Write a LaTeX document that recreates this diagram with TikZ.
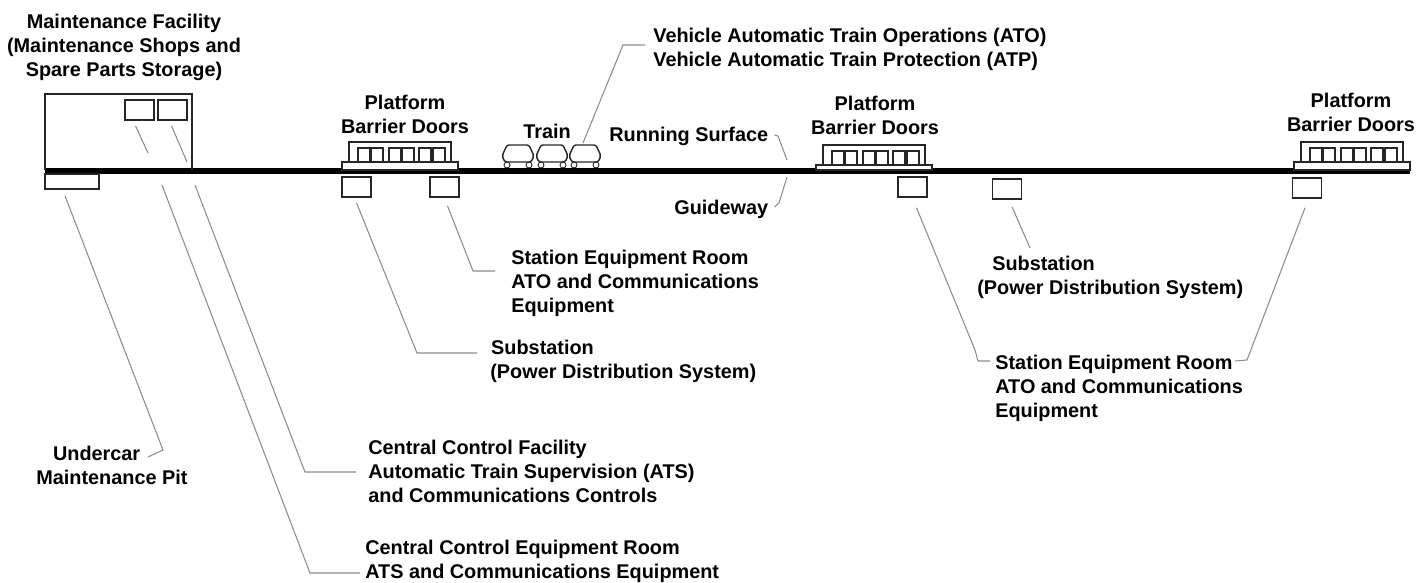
\documentclass[tikz,border=0pt]{standalone}
\usepackage{fontspec}
\setmainfont{Liberation Sans}

\begin{document}
\begin{tikzpicture}[x=0.02cm,y=-0.02cm,
    lbl/.style={anchor=north west,inner sep=0pt,align=left,font=\fontsize{11.3}{13.5}\selectfont\bfseries},
    ctrlbl/.style={anchor=north,inner sep=0pt,align=center,font=\fontsize{11.3}{13.5}\selectfont\bfseries},
    eqbox/.style={draw=black!85,line width=0.9pt,inner sep=0pt,minimum width=0.58cm,minimum height=0.4cm},
    outline/.style={draw=black!85,line width=0.8pt},
    leader/.style={draw=black!45,line width=0.6pt}]
    \useasboundingbox (0,0) rectangle (1427,582);
    % 轨道
    \draw[line width=3.5pt] (45,171) -- (1410,171);
    % 维修设施
    \draw[outline] (45,170) -- (45,94) -- (192,94) -- (192,170);
    \node[eqbox] (winA) at (139.5,110) {};
    \node[eqbox] (winB) at (172.5,110) {};
    \node[eqbox,minimum width=1.08cm,minimum height=0.3cm] (pit) at (72,181.5) {};
    % 站台
    \foreach \px/\py in {342/0,816/3,1294/0} {
        \draw[outline,fill=white] (\px,\py+162) rectangle (\px+116,170);
        \draw[outline] (\px+7,\py+162) -- (\px+7,\py+142) -- (\px+109,\py+142) -- (\px+109,\py+162);
        \foreach \dx in {16,29,47,60,77,91}
            \draw[outline] (\px+\dx,\py+162) -- (\px+\dx,\py+148) -- (\px+\dx+12,\py+148) -- (\px+\dx+12,\py+162);
    }
    % 列车
    \foreach \cx in {502,536,569} {
        \draw[outline,rounded corners=1.2pt] (\cx+5,145) -- (\cx+27,145) -- (\cx+32,156) -- (\cx+29,162) -- (\cx+3,162) -- (\cx,156) -- cycle;
        \draw[outline,line width=0.5pt] (\cx+5,165) circle (3);
        \draw[outline,line width=0.5pt] (\cx+27,165) circle (3);
    }
    \coordinate (carC) at (583,143);
    % 设备间
    \node[eqbox] (subA) at (356.5,187) {};
    \node[eqbox] (staA) at (444.5,187) {};
    \node[eqbox] (staB) at (912.5,187) {};
    \node[eqbox] (subB) at (1007,189) {};
    \node[eqbox] (staC) at (1307,188) {};
    % 文字
    \node[ctrlbl] (mfac) at (124,14) {Maintenance Facility\\(Maintenance Shops and\\Spare Parts Storage)};
    \node[ctrlbl] (platA) at (405,95) {Platform\\Barrier Doors};
    \node[ctrlbl] (platB) at (875,96) {Platform\\Barrier Doors};
    \node[ctrlbl] (platC) at (1351,93) {Platform\\Barrier Doors};
    \node[ctrlbl] (train) at (547,124) {Train};
    \node[lbl] (veh) at (653,28) {Vehicle Automatic Train Operations (ATO)\\Vehicle Automatic Train Protection (ATP)};
    \node[lbl] (run) at (609,127) {Running Surface};
    \node[lbl] (guide) at (674,200) {Guideway};
    \node[lbl] (staAl) at (511,250) {Station Equipment Room\\ATO and Communications\\Equipment};
    \node[lbl] (subAl) at (490,340) {\hspace*{0.5pt}Substation\\(Power Distribution System)};
    \node[lbl] (subBl) at (977,256) {\hspace*{8.5pt}Substation\\(Power Distribution System)};
    \node[lbl] (staBl) at (995,355) {Station Equipment Room\\ATO and Communications\\Equipment};
    \node[lbl] (pitl) at (36,446) {\hspace*{9.5pt}Undercar\\Maintenance Pit};
    \node[lbl] (ccf) at (368,440) {Central Control Facility\\Automatic Train Supervision (ATS)\\and Communications Controls};
    \node[lbl] (cer) at (365,540) {Central Control Equipment Room\\ATS and Communications Equipment};
    % 引线
    \draw[leader] (carC) -- (623,45) -- ([shift={(-8,17)}]veh.north west);
    \draw[leader] ([shift={(6,8)}]run.north east) -- (778,136) -- (787,160);
    \draw[leader] (787,177) -- (779,203) -- ([shift={(6,7)}]guide.north east);
    \draw[leader] ([shift={(-4,5)}]winA.south) -- (148,153);
    \draw[leader] (162,185) -- (310,573) -- ([shift={(-5,33)}]cer.north west);
    \draw[leader] ([shift={(-1,5)}]winB.south) -- (187,162);
    \draw[leader] (195,185) -- (305,472) -- ([shift={(-12,32)}]ccf.north west);
    \draw[leader] ([shift={(-7,6)}]pit.south) -- (163,450) -- (148,457);
    \draw[leader] ([shift={(0,5)}]subA.south) -- (417,353) -- ([shift={(-13,13)}]subAl.north west);
    \draw[leader] ([shift={(3,8)}]staA.south) -- (473,271) -- ([shift={(-16,21)}]staAl.north west);
    \draw[leader] ([shift={(5,7)}]subB.south) -- (1030,248);
    \draw[leader] ([shift={(4,10)}]staB.south) -- (975,350) -- (978,361) -- ([shift={(-5,6)}]staBl.north west);
    \draw[leader] ([shift={(-2,9)}]staC.south) -- (1247,360) -- (1235,361);
\end{tikzpicture}
\end{document}
